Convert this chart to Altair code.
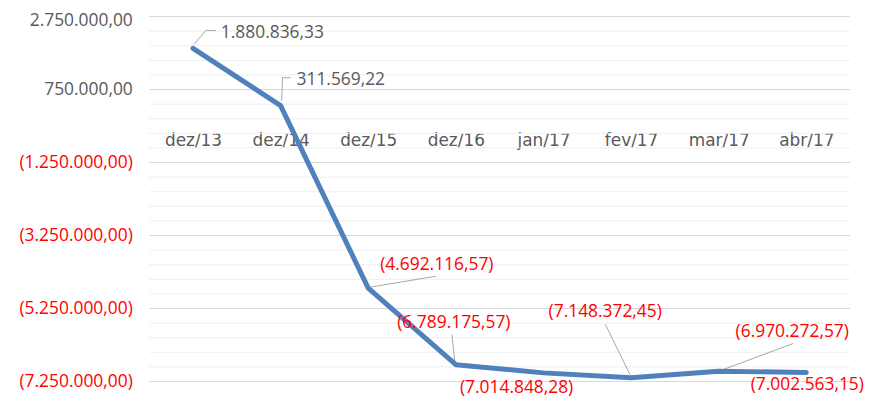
import altair as alt
import pandas as pd

categories = ["dez/13", "dez/14", "dez/15", "dez/16", "jan/17", "fev/17", "mar/17", "abr/17"]
values = [1880836.33, 311569.22, -4692116.57, -6789175.57, -7014848.28,
          -7148372.45, -6970272.57, -7002563.15]
major_ticks = [2750000, 750000, -1250000, -3250000, -5250000, -7250000]
minor_ticks = list(range(2750000, -7250001, -400000))

# label placement (pixel offsets from each point): dx, dy, align
label_pos = {
    "dez/13": (28, -15, "left"),
    "dez/14": (16, -26, "left"),
    "dez/15": (69, -23, "center"),
    "dez/16": (-2, -42, "center"),
    "jan/17": (-27, 15, "center"),
    "fev/17": (-26, -66, "center"),
    "mar/17": (74, -39, "center"),
    "abr/17": (1, 13, "center"),
}
# leader lines: category, start offset, end offset (pixels)
leaders = [
    ("dez/13", (1, -4), (13, -18)),
    ("dez/13", (13, -18), (23, -18)),
    ("dez/14", (1, -5), (2, -28)),
    ("dez/14", (2, -28), (10, -28)),
    ("dez/15", (2, -1), (68, -12)),
    ("dez/16", (-1, -3), (-4, -30)),
    ("fev/17", (-1, -3), (-26, -54)),
    ("mar/17", (0, 0), (75, -28)),
]

df = pd.DataFrame({"cat": categories, "value": values})
grid_minor = pd.DataFrame({"value": minor_ticks})
grid_major = pd.DataFrame({"value": major_ticks})

NUM_FONT = "Open Sans"
CAT_FONT = "DejaVu Sans"
NUM_SIZE = 17.5
GRAY = "#595959"
RED = "#FF0000"

yscale = alt.Scale(domain=[-7250000, 2750000], nice=False, zero=False)
xscale = alt.Scale(type="point", padding=0.5)

y_axis = alt.Axis(title=None, values=major_ticks, format="(,.2f",
                  domain=False, ticks=False, grid=False, labelPadding=17,
                  labelFont=NUM_FONT, labelFontSize=NUM_SIZE,
                  labelOffset={"condition": {"test": "datum.value > 2000000", "value": 4},
                               "value": 0},
                  labelColor={"condition": {"test": "datum.value < 0", "value": RED},
                              "value": GRAY})
x_enc = alt.X("cat:N", sort=categories, scale=xscale,
              axis=alt.Axis(title=None, orient="bottom", offset=-250, domain=False,
                            ticks=False, labelPadding=0, labelBaseline="top",
                            labelAlign="center",
                            labelFont=CAT_FONT, labelFontSize=17,
                            labelColor=GRAY, labelAngle=0, grid=False))

minor = alt.Chart(grid_minor).mark_rule(color="#EEEEEE", strokeWidth=1).encode(
    y=alt.Y("value:Q", scale=yscale, axis=y_axis))
major = alt.Chart(grid_major).mark_rule(color="#D9D9D9", strokeWidth=1).encode(
    y=alt.Y("value:Q", scale=yscale, axis=y_axis))

base = alt.Chart(df)

line = base.mark_line(color="#4F81BD", strokeWidth=5, strokeCap="round",
                      strokeJoin="round").encode(
    x=x_enc, y=alt.Y("value:Q", scale=yscale, axis=y_axis))

layers = [minor, major]

for cat, (x0, y0), (x1, y1) in leaders:
    layers.append(
        base.transform_filter(alt.datum.cat == cat).mark_rule(
            color="#A6A6A6", strokeWidth=1,
            xOffset=x0, yOffset=y0, x2Offset=x1, y2Offset=y1,
        ).encode(x=alt.X("cat:N", sort=categories, scale=xscale),
                 y=alt.Y("value:Q", scale=yscale),
                 x2="cat:N", y2="value:Q")
    )

layers.append(line)

for cat, (dx, dy, align) in label_pos.items():
    layers.append(
        base.transform_filter(alt.datum.cat == cat).mark_text(
            font=NUM_FONT, fontSize=NUM_SIZE, dx=dx, dy=dy, align=align, baseline="middle",
        ).encode(
            x=alt.X("cat:N", sort=categories, scale=xscale),
            y=alt.Y("value:Q", scale=yscale),
            text=alt.Text("value:Q", format="(,.2f"),
            color=alt.condition(alt.datum.value < 0, alt.value(RED), alt.value(GRAY)),
        )
    )

chart = alt.layer(*layers).properties(
    width=705, height=367,
    autosize="none",
    padding={"left": 142, "top": 7.5, "right": 17, "bottom": 18},
).configure(
    locale={"number": {"decimal": ",", "thousands": ".", "grouping": [3],
                       "currency": ["R$ ", ""]}}
).configure_view(stroke="transparent")

chart.save("out.html", embed_options={"renderer": "svg", "actions": False})
